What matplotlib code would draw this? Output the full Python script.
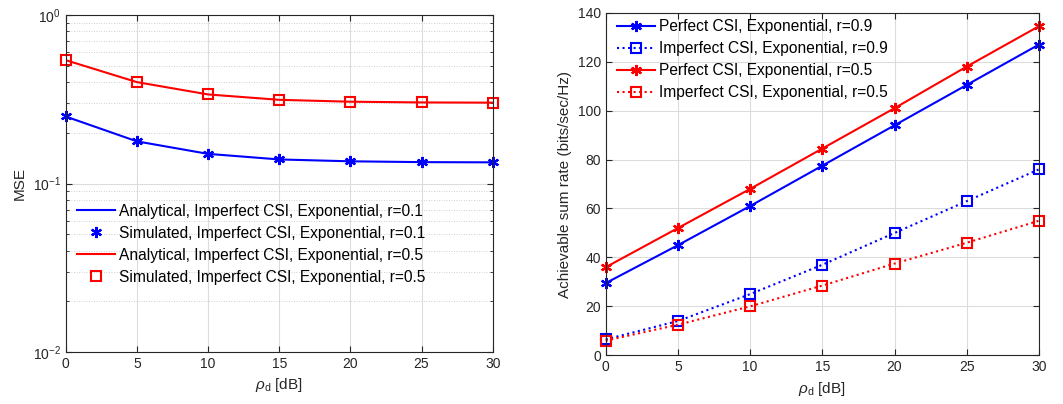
import matplotlib
matplotlib.use("Agg")
import matplotlib.pyplot as plt
from matplotlib.ticker import LogLocator, NullFormatter, FixedLocator

plt.rcParams["font.family"] = ["Liberation Sans", "DejaVu Sans"]
plt.rcParams["mathtext.fontset"] = "custom"
plt.rcParams["mathtext.it"] = "Liberation Sans:italic"
plt.rcParams["mathtext.rm"] = "Liberation Sans"

# data
rho_db = [0, 5, 10, 15, 20, 25, 30]

mse_r01 = [0.250, 0.178, 0.150, 0.139, 0.1355, 0.134, 0.1336]
mse_r05 = [0.540, 0.400, 0.338, 0.314, 0.306, 0.303, 0.302]

rate_perfect_r09 = [29.5, 45, 61, 77.5, 94, 110.5, 127]
rate_imperfect_r09 = [6.5, 14, 25, 37, 50, 63, 76]
rate_perfect_r05 = [36, 52, 68, 84.5, 101, 118, 134.5]
rate_imperfect_r05 = [6, 12.5, 20, 28.5, 37.5, 46, 55]

TXT = "#262626"
GRID = "#dcdcdc"
asterisk = (6, 2, 0)

fig = plt.figure(figsize=(10.63, 4.04), dpi=100)
ax1 = fig.add_axes([0.0618, 0.1287, 0.4017, 0.834])
ax2 = fig.add_axes([0.5698, 0.1205, 0.4076, 0.848])


def matlab_style(ax):
    for s in ax.spines.values():
        s.set_color(TXT)
        s.set_linewidth(0.8)
    ax.tick_params(which="both", direction="in", top=True, right=True,
                   colors=TXT, labelsize=10, labelcolor=TXT)
    ax.tick_params(which="major", length=4)
    ax.tick_params(which="minor", length=2.5)
    ax.set_axisbelow(True)


# left: MSE
ax1.plot(rho_db, mse_r01, "-", color="blue", lw=1.5,
         label="Analytical, Imperfect CSI, Exponential, r=0.1")
ax1.plot(rho_db, mse_r01, ls="none", marker=asterisk, color="blue", ms=8, mew=1.6,
         clip_on=False, label="Simulated, Imperfect CSI, Exponential, r=0.1")
ax1.plot(rho_db, mse_r05, "-", color="red", lw=1.5,
         label="Analytical, Imperfect CSI, Exponential, r=0.5")
ax1.plot(rho_db, mse_r05, ls="none", marker="s", mfc="none", mec="red", ms=6.5, mew=1.5,
         clip_on=False, label="Simulated, Imperfect CSI, Exponential, r=0.5")
ax1.set_yscale("log")
ax1.set_xlim(0, 30)
ax1.set_ylim(1e-2, 1)
ax1.set_xticks(rho_db)
ax1.yaxis.set_major_locator(FixedLocator([1e-2, 1e-1, 1]))
ax1.yaxis.set_minor_locator(LogLocator(base=10, subs=range(2, 10)))
ax1.yaxis.set_minor_formatter(NullFormatter())
ax1.grid(True, which="major", color=GRID, lw=0.8)
ax1.grid(True, which="minor", axis="y", color="#c0c0c0", lw=0.6, ls=(0, (1, 2)))
matlab_style(ax1)
ax1.set_xlabel(r"$\rho_{\rm d}$ [dB]", fontsize=11, color=TXT)
ax1.set_ylabel("MSE", fontsize=11, color=TXT)
ax1.legend(loc="upper left", bbox_to_anchor=(0.0, 0.472), frameon=False,
           fontsize=11.2, handlelength=2.5, handletextpad=0.25,
           labelspacing=0.45, borderaxespad=0.3)

# right: sum rate
ax2.plot(rho_db, rate_perfect_r09, "-", color="blue", lw=1.5, marker=asterisk,
         ms=8, mew=1.6, clip_on=False, label="Perfect CSI, Exponential, r=0.9")
ax2.plot(rho_db, rate_imperfect_r09, ":", color="blue", lw=1.5, marker="s",
         mfc="none", ms=6.5, mew=1.5, clip_on=False,
         label="Imperfect CSI, Exponential, r=0.9")
ax2.plot(rho_db, rate_perfect_r05, "-", color="red", lw=1.5, marker=asterisk,
         ms=8, mew=1.6, clip_on=False, label="Perfect CSI, Exponential, r=0.5")
ax2.plot(rho_db, rate_imperfect_r05, ":", color="red", lw=1.5, marker="s",
         mfc="none", ms=6.5, mew=1.5, clip_on=False,
         label="Imperfect CSI, Exponential, r=0.5")
ax2.set_xlim(0, 30)
ax2.set_ylim(0, 140)
ax2.set_xticks(rho_db)
ax2.set_yticks(range(0, 141, 20))
ax2.grid(True, color=GRID, lw=0.8)
matlab_style(ax2)
ax2.set_xlabel(r"$\rho_{\rm d}$ [dB]", fontsize=11, color=TXT)
ax2.set_ylabel("Achievable sum rate (bits/sec/Hz)", fontsize=11, color=TXT)
ax2.legend(loc="upper left", bbox_to_anchor=(0.0, 1.013), frameon=False,
           fontsize=11.2, handlelength=2.5, handletextpad=0.25,
           labelspacing=0.45, borderaxespad=0.3)

fig.savefig("out.png", dpi=100)
